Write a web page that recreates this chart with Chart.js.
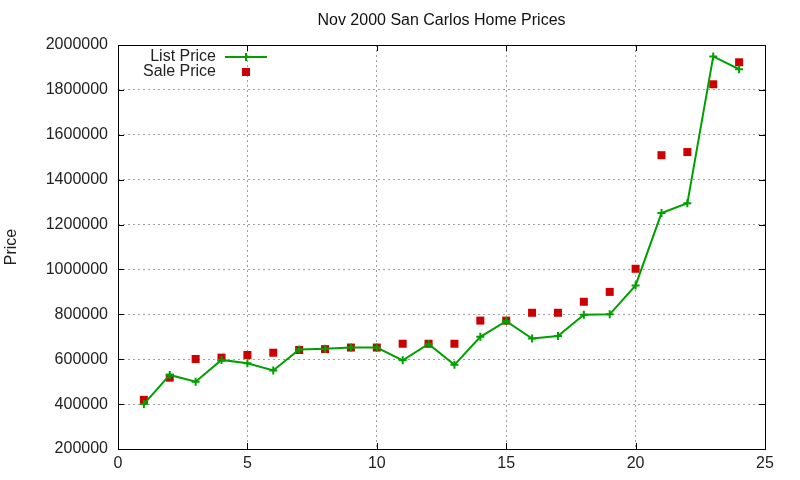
<!DOCTYPE html>
<html>
<head>
<meta charset="utf-8">
<title>Nov 2000 San Carlos Home Prices</title>
<script src="https://cdn.jsdelivr.net/npm/chart.js@4.4.0/dist/chart.umd.min.js"></script>
<style>
  html, body { margin: 0; padding: 0; background: #fff; }
  #wrap { width: 800px; height: 480px; position: relative; }
</style>
</head>
<body>
<div id="wrap"><canvas id="myChart"></canvas></div>
<script>
// data
const titleText = 'Nov 2000 San Carlos Home Prices';
const houseIndex = [1, 2, 3, 4, 5, 6, 7, 8, 9, 10, 11, 12, 13, 14, 15, 16, 17, 18, 19, 20, 21, 22, 23, 24];
const listPrice = [400000, 530000, 500000, 597000, 582000, 550000, 643000, 647000, 652000, 652000, 595000, 668000,
                   575000, 700000, 770000, 692000, 703000, 798000, 800000, 929000, 1251000, 1295000, 1949000, 1892000];
const salePrice = [419000, 518000, 601000, 607000, 619000, 629000, 641000, 645000, 652000, 652000, 669000, 669000,
                   669000, 772000, 772000, 807000, 807000, 856000, 900000, 1003000, 1509000, 1523000, 1825000, 1923000];
const xTicks = [0, 5, 10, 15, 20, 25];
const yTicks = [200000, 400000, 600000, 800000, 1000000, 1200000, 1400000, 1600000, 1800000, 2000000];

const GREEN = '#00a000';
const RED = '#cc0000';
const FONT = 'Liberation Sans, Arial, sans-serif';

// 标题、边框、内向刻度和图例
const gnuplotLook = {
  id: 'gnuplotLook',
  afterDraw(chart) {
    const ctx = chart.ctx;
    const area = chart.chartArea;
    const xs = chart.scales.x;
    const ys = chart.scales.y;
    ctx.save();

    // box
    ctx.strokeStyle = '#000';
    ctx.lineWidth = 1;
    ctx.setLineDash([]);
    ctx.strokeRect(Math.round(area.left) + 0.5, Math.round(area.top) + 0.5,
                   Math.round(area.right - area.left), Math.round(area.bottom - area.top));

    // inward tick marks on all four sides
    ctx.beginPath();
    xTicks.forEach(v => {
      const px = Math.round(xs.getPixelForValue(v)) + 0.5;
      ctx.moveTo(px, area.bottom); ctx.lineTo(px, area.bottom - 6);
      ctx.moveTo(px, area.top); ctx.lineTo(px, area.top + 6);
    });
    yTicks.forEach(v => {
      const py = Math.round(ys.getPixelForValue(v)) + 0.5;
      ctx.moveTo(area.left, py); ctx.lineTo(area.left + 6, py);
      ctx.moveTo(area.right, py); ctx.lineTo(area.right - 6, py);
    });
    ctx.stroke();

    // title
    ctx.fillStyle = '#111';
    ctx.font = '16px ' + FONT;
    ctx.textAlign = 'center';
    ctx.textBaseline = 'middle';
    ctx.fillText(titleText, (area.left + area.right) / 2, 21);

    // legend (inside, top left)
    const lx = area.left + 98;
    ctx.textAlign = 'right';
    ctx.fillStyle = '#222';
    const ds = chart.data.datasets;
    ctx.fillText(ds[0].label, lx, area.top + 12);
    ctx.fillText(ds[1].label, lx, area.top + 27);

    ctx.strokeStyle = GREEN;
    ctx.lineWidth = 2;
    ctx.beginPath();
    ctx.moveTo(lx + 9, area.top + 12);
    ctx.lineTo(lx + 51, area.top + 12);
    ctx.moveTo(lx + 30, area.top + 8);
    ctx.lineTo(lx + 30, area.top + 16);
    ctx.stroke();

    ctx.fillStyle = RED;
    ctx.fillRect(lx + 26, area.top + 23, 8, 8);
    ctx.restore();
  }
};

const ctx = document.getElementById('myChart');
new Chart(ctx, {
  type: 'scatter',
  data: {
    datasets: [{
      label: 'List Price',
      data: houseIndex.map((d, i) => ({ x: d, y: listPrice[i] })),
      showLine: true,
      borderColor: GREEN,
      backgroundColor: GREEN,
      borderWidth: 2,
      pointStyle: 'cross',
      pointRadius: 4,
      pointBorderWidth: 2,
      pointBorderColor: GREEN,
      tension: 0
    }, {
      label: 'Sale Price',
      data: houseIndex.map((d, i) => ({ x: d, y: salePrice[i] })),
      showLine: false,
      pointStyle: 'rect',
      pointRadius: 5.66,
      pointBorderWidth: 0,
      backgroundColor: RED,
      borderColor: RED
    }]
  },
  plugins: [gnuplotLook],
  options: {
    responsive: true,
    maintainAspectRatio: false,
    animation: false,
    layout: { padding: { top: 45, right: 35, left: 0, bottom: 0 } },
    plugins: {
      legend: { display: false },
      title: { display: false },
      tooltip: { enabled: false }
    },
    scales: {
      x: {
        type: 'linear',
        min: 0,
        max: 25,
        afterFit: s => { s.height = 31; },
        afterBuildTicks: s => { s.ticks = xTicks.map(v => ({ value: v })); },
        ticks: { color: '#222', font: { family: FONT, size: 16 }, padding: 5, maxRotation: 0 },
        grid: { color: '#a0a0a0', lineWidth: 1, drawTicks: false },
        border: { display: false, dash: [2, 3] }
      },
      y: {
        type: 'linear',
        min: 200000,
        max: 2000000,
        afterFit: s => { s.width = 118; },
        afterBuildTicks: s => { s.ticks = yTicks.map(v => ({ value: v })); },
        ticks: { color: '#222', font: { family: FONT, size: 16 }, padding: 10, callback: v => String(v) },
        grid: { color: '#a0a0a0', lineWidth: 1, drawTicks: false },
        border: { display: false, dash: [2, 3] },
        title: { display: true, text: 'Price', color: '#222', font: { family: FONT, size: 16 }, padding: { top: 2, bottom: 0 } }
      }
    }
  }
});
</script>
</body>
</html>
